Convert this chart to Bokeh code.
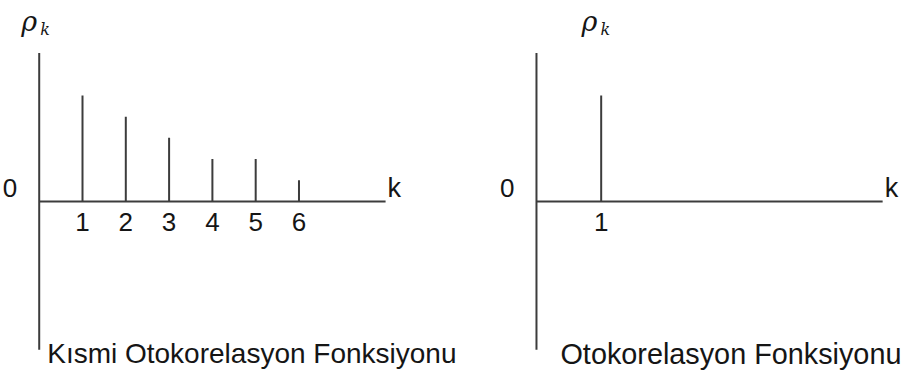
from bokeh.plotting import figure
from bokeh.layouts import row
from bokeh.models import Range1d
from bokeh.core.properties import value
from bokeh.embed import file_html
from bokeh.resources import INLINE

# ---- data ----
pacf_lags = [1, 2, 3, 4, 5, 6]
pacf_values = [0.5, 0.4, 0.3, 0.2, 0.2, 0.1]
pacf_tick_labels = ["1", "2", "3", "4", "5", "6"]

acf_lags = [1]
acf_values = [0.5]
acf_tick_labels = ["1"]

titles = ["Kısmi Otokorelasyon Fonksiyonu", "Otokorelasyon Fonksiyonu"]
zero_label = "0"
x_axis_label = "k"
y_axis_label = "ρ"
y_axis_sub = "k"
x_axis_max = [8.0, 5.35]
y_axis_lim = 0.7

LINE = "#3c3c3c"
TXT = "#151515"
FONT = value("Liberation Sans")
H = 372


def panel(lags, vals, ticks, title, xmax, xr, width, title_dx, rho_dx, title_size):
    p = figure(width=width, height=H, x_range=Range1d(*xr), y_range=Range1d(-0.807, 0.948),
               x_axis_type=None, y_axis_type=None, output_backend="svg",
               toolbar_location=None, min_border=0)
    p.grid.visible = False
    p.outline_line_color = None
    p.background_fill_color = "white"
    # axes
    p.segment(x0=[0, 0], y0=[-y_axis_lim, 0], x1=[0, xmax], y1=[y_axis_lim, 0],
              line_color=LINE, line_width=2)
    # stems
    p.segment(x0=lags, y0=[0] * len(lags), x1=lags, y1=vals, line_color=LINE, line_width=2)
    # tick labels
    p.text(x=lags, y=[0] * len(lags), text=ticks, text_align="center",
           text_baseline="alphabetic", y_offset=21, text_font=FONT,
           text_font_size="26px", text_color=TXT)
    # zero label
    p.text(x=[0], y=[0], text=[zero_label], text_align="right", text_baseline="alphabetic",
           x_offset=-22, y_offset=-13, text_font=FONT, text_font_size="26px", text_color=TXT)
    # k label
    p.text(x=[xmax], y=[0], text=[x_axis_label], text_align="left", text_baseline="alphabetic",
           x_offset=2, y_offset=-13, text_font=FONT, text_font_size="27px", text_color=TXT)
    # rho_k
    p.text(x=[0], y=[y_axis_lim], text=[y_axis_label], text_align="left",
           text_baseline="alphabetic", x_offset=rho_dx, y_offset=-32,
           text_font=value("DejaVu Serif"), text_font_style="italic",
           text_font_size="27px", text_color=TXT)
    p.text(x=[0], y=[y_axis_lim], text=[y_axis_sub], text_align="left",
           text_baseline="alphabetic", x_offset=rho_dx + 19, y_offset=-24,
           text_font=value("DejaVu Serif"), text_font_style="italic",
           text_font_size="16px", text_color=TXT)
    # title
    p.text(x=[0], y=[-y_axis_lim], text=[title], text_align="left", text_baseline="alphabetic",
           x_offset=title_dx, y_offset=4, text_font=FONT, text_font_size=title_size,
           text_color=TXT)
    return p


p1 = panel(pacf_lags, pacf_values, pacf_tick_labels, titles[0], x_axis_max[0],
           (-0.894, 10.146), 478, 8, -18, "28px")
p2 = panel(acf_lags, acf_values, acf_tick_labels, titles[1], x_axis_max[1],
           (-0.896, 5.765), 431, 24, 45, "28.8px")

layout = row(p1, p2, spacing=0)
open("out.html", "w").write(file_html(layout, INLINE))
